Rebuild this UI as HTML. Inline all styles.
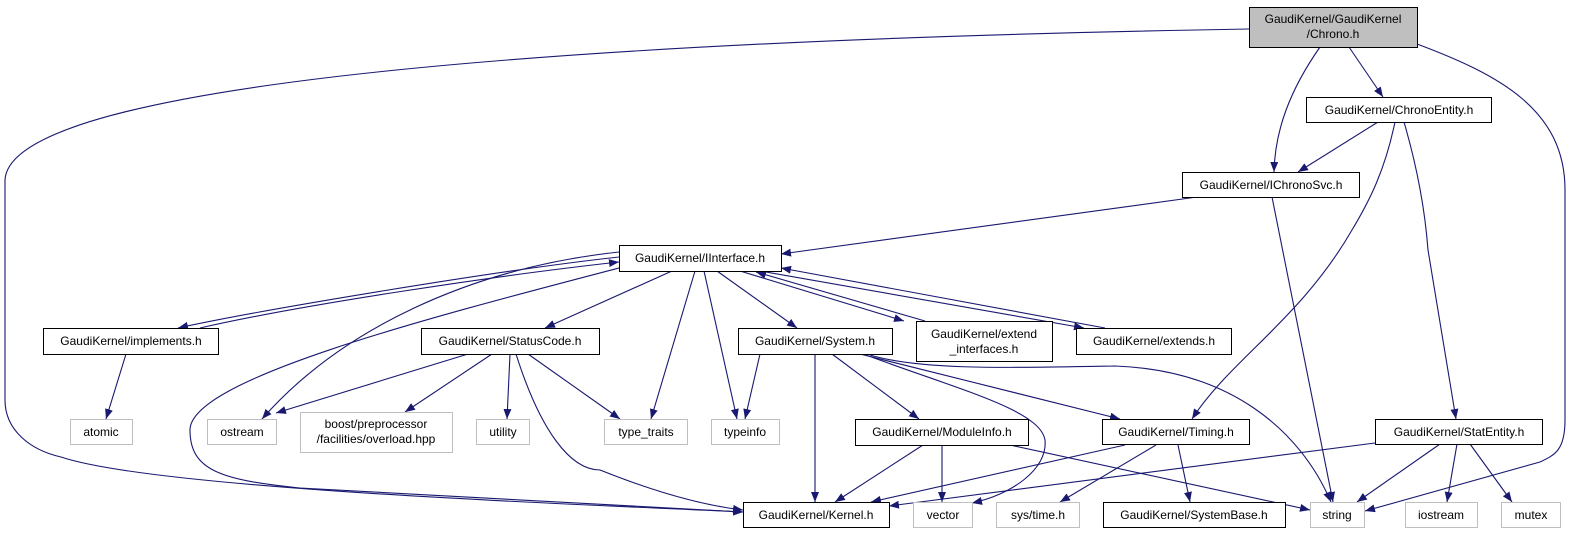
<!DOCTYPE html>
<html><head><meta charset="utf-8"><style>
html,body{margin:0;padding:0;background:#fff;}
svg{display:block;}
text{font-family:"Liberation Sans",sans-serif;font-size:12px;fill:#000;}
</style></head><body>
<svg width="1587" height="533" viewBox="0 0 1587 533" xmlns="http://www.w3.org/2000/svg">
<defs><marker id="a" markerWidth="10" markerHeight="8" refX="10" refY="4" orient="auto" markerUnits="userSpaceOnUse"><path d="M0,0 L10,4 L0,8 z" fill="#191970"/></marker></defs>
<g fill="none" stroke="#191970" stroke-width="1.1" marker-end="url(#a)">
<path d="M1249,29 C600,40 10,80 5,180 L5,400 C5,430 30,450 61,457 C160,490 600,505 743,512"/>
<path d="M1320,47 C1290,90 1275,130 1274,172"/>
<path d="M1349,47 L1383,97"/>
<path d="M1417,44 C1500,75 1565,110 1565,190 L1565,420 C1565,450 1555,455 1540,462 L1365,511"/>
<path d="M1378,122 L1298,172"/>
<path d="M1395,122 C1385,170 1370,200 1352,230 C1300,320 1230,360 1192,419"/>
<path d="M1404,122 C1418,170 1425,210 1428,250 L1456,419"/>
<path d="M1197,197 L781,254"/>
<path d="M1272,197 L1333,502"/>
<path d="M619,257 C500,270 260,310 178,328"/>
<path d="M200,328 C300,305 500,275 619,262"/>
<path d="M619,252 C470,268 340,330 262,419"/>
<path d="M619,268 C420,320 190,380 190,430 C190,470 220,480 300,488 C500,500 650,508 743,512"/>
<path d="M672,271 L545,328"/>
<path d="M695,271 L651,419"/>
<path d="M704,271 L737,419"/>
<path d="M717,271 L797,328"/>
<path d="M740,271 L904,321"/>
<path d="M925,321 L756,272"/>
<path d="M760,271 L1084,328"/>
<path d="M1105,328 L781,268"/>
<path d="M468,354 L276,413"/>
<path d="M492,354 L405,412"/>
<path d="M510,354 L507,419"/>
<path d="M528,354 L620,419"/>
<path d="M516,354 C540,430 570,470 600,470 C650,490 700,505 743,510"/>
<path d="M126,354 L106,419"/>
<path d="M760,354 L745,419"/>
<path d="M815,354 L815,502"/>
<path d="M832,354 L919,419"/>
<path d="M860,354 L1120,419"/>
<path d="M866,355 C960,390 1040,410 1045,440 C1048,470 1010,495 972,503"/>
<path d="M870,355 C920,370 1000,368 1115,366 C1230,370 1300,430 1331,502"/>
<path d="M923,445 L835,502"/>
<path d="M942,445 L942,502"/>
<path d="M1010,445 L1310,510"/>
<path d="M1125,445 L871,502"/>
<path d="M1156,445 L1060,502"/>
<path d="M1178,445 L1190,502"/>
<path d="M1375,443 L889,506"/>
<path d="M1440,444 L1357,502"/>
<path d="M1457,444 L1447,502"/>
<path d="M1470,444 L1512,502"/>
</g>
<g stroke-width="1">
<rect x="1249.5" y="7.5" width="168" height="40" fill="#bfbfbf" stroke="#000"/>
<g fill="#fff" stroke="#000">
<rect x="1306.5" y="97.5" width="185" height="25"/>
<rect x="1182.5" y="172.5" width="177" height="25"/>
<rect x="619.5" y="245.5" width="162" height="26"/>
<rect x="43.5" y="328.5" width="175" height="26"/>
<rect x="421.5" y="328.5" width="178" height="26"/>
<rect x="738.5" y="328.5" width="154" height="26"/>
<rect x="916.5" y="321.5" width="136" height="40"/>
<rect x="1076.5" y="328.5" width="155" height="26"/>
<rect x="855.5" y="419.5" width="173" height="26"/>
<rect x="1102.5" y="419.5" width="147" height="25"/>
<rect x="1375.5" y="419.5" width="167" height="25"/>
<rect x="743.5" y="502.5" width="146" height="25"/>
<rect x="1103.5" y="502.5" width="182" height="25"/>
</g>
<g fill="#fff" stroke="#bfbfbf">
<rect x="70.5" y="419.5" width="62" height="25"/>
<rect x="207.5" y="419.5" width="69" height="25"/>
<rect x="300.5" y="412.5" width="152" height="40"/>
<rect x="476.5" y="419.5" width="53" height="25"/>
<rect x="604.5" y="419.5" width="83" height="25"/>
<rect x="711.5" y="419.5" width="68" height="25"/>
<rect x="913.5" y="502.5" width="59" height="25"/>
<rect x="996.5" y="502.5" width="83" height="25"/>
<rect x="1310.5" y="502.5" width="54" height="25"/>
<rect x="1405.5" y="502.5" width="72" height="25"/>
<rect x="1501.5" y="502.5" width="59" height="25"/>
</g>
</g>
<g text-anchor="middle">
<text x="1333" y="23">GaudiKernel/GaudiKernel</text>
<text x="1333" y="38">/Chrono.h</text>
<text x="1399" y="114">GaudiKernel/ChronoEntity.h</text>
<text x="1271" y="189">GaudiKernel/IChronoSvc.h</text>
<text x="700" y="262">GaudiKernel/IInterface.h</text>
<text x="131" y="345">GaudiKernel/implements.h</text>
<text x="510" y="345">GaudiKernel/StatusCode.h</text>
<text x="815" y="345">GaudiKernel/System.h</text>
<text x="984" y="338">GaudiKernel/extend</text>
<text x="984" y="353">_interfaces.h</text>
<text x="1154" y="345">GaudiKernel/extends.h</text>
<text x="942" y="436">GaudiKernel/ModuleInfo.h</text>
<text x="1176" y="436">GaudiKernel/Timing.h</text>
<text x="1459" y="436">GaudiKernel/StatEntity.h</text>
<text x="101" y="436">atomic</text>
<text x="242" y="436">ostream</text>
<text x="376" y="428">boost/preprocessor</text>
<text x="376" y="443">/facilities/overload.hpp</text>
<text x="503" y="436">utility</text>
<text x="646" y="436">type_traits</text>
<text x="745" y="436">typeinfo</text>
<text x="816" y="519">GaudiKernel/Kernel.h</text>
<text x="943" y="519">vector</text>
<text x="1038" y="519">sys/time.h</text>
<text x="1194" y="519">GaudiKernel/SystemBase.h</text>
<text x="1337" y="519">string</text>
<text x="1441" y="519">iostream</text>
<text x="1531" y="519">mutex</text>
</g>
</svg>
</body></html>
